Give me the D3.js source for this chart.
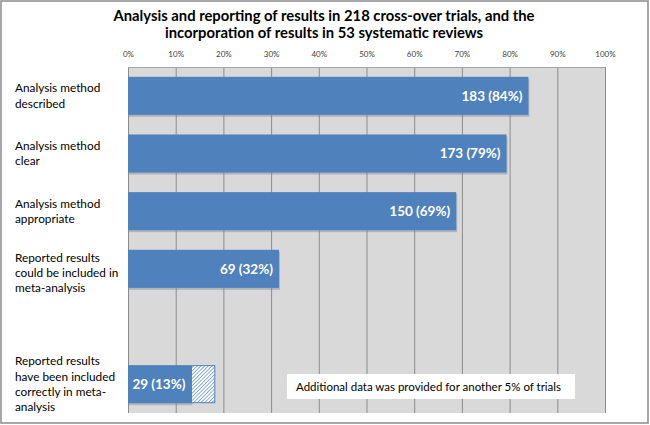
<!DOCTYPE html>
<html>
<head>
<meta charset="utf-8">
<script src="https://cdn.jsdelivr.net/npm/d3@7"></script>
<style>
  body { margin: 0; background: #fff; }
  svg { display: block; font-family: Lato, "Open Sans", sans-serif; }
</style>
</head>
<body>
<div class="Canvas"></div>
<script>
// Chart values.
const totalTrials = 218;
const categories = [
    ['Analysis method', 'described'],
    ['Analysis method', 'clear'],
    ['Analysis method', 'appropriate'],
    ['Reported results', 'could be included in', 'meta-analysis'],
    [],
    ['Reported results', 'have been included', 'correctly in meta-', 'analysis']
];
const counts = [183, 173, 150, 69, null, 29];
const percentLabels = ['84%', '79%', '69%', '32%', null, '13%'];
// extra share (hatched) for the last bar
const extraShare = [0, 0, 0, 0, null, 0.05];
const tickValues = [0, 0.1, 0.2, 0.3, 0.4, 0.5, 0.6, 0.7, 0.8, 0.9, 1];
const titleLines = [
    'Analysis and reporting of results in 218 cross-over trials, and the',
    'incorporation of results in 53 systematic reviews'
];
const noteText = 'Additional data was provided for another 5% of trials';

const width = 650;
const height = 425;
const margin = { top: 67, right: 45, bottom: 12, left: 128 };
const barColor = '#4f81bd';

const svg = d3.select('.Canvas').append('svg')
    .attr('width', width)
    .attr('height', height);

// hatch pattern for the extra part
const defs = svg.append('defs');
const pat = defs.append('pattern')
    .attr('id', 'hatch')
    .attr('patternUnits', 'userSpaceOnUse')
    .attr('width', 2.6).attr('height', 2.6)
    .attr('patternTransform', 'rotate(45)');
pat.append('rect').attr('width', 2.6).attr('height', 2.6).attr('fill', '#fff');
pat.append('line').attr('x1', 0).attr('y1', 0).attr('x2', 0).attr('y2', 2.6)
    .attr('stroke', barColor).attr('stroke-width', 1.3);

// outer frame
svg.append('rect')
    .attr('x', 1).attr('y', 1)
    .attr('width', width - 3).attr('height', height - 3)
    .attr('fill', '#fff').attr('stroke', '#8a8a8a').attr('stroke-width', 1.5);

// title
svg.append('g').selectAll('text')
    .data(titleLines)
    .enter()
    .append('text')
    .attr('x', 324)
    .attr('y', (d, i) => 21 + i * 16.5)
    .attr('text-anchor', 'middle')
    .attr('font-size', '14.8px')
    .attr('font-weight', 'bold')
    .attr('fill', '#000')
    .text((d) => d);

const x = d3.scaleLinear().domain([0, 1]).range([margin.left, width - margin.right]);
const y = d3.scaleBand()
    .domain(d3.range(categories.length))
    .range([margin.top, height - margin.bottom])
    .paddingInner(0.34)
    .paddingOuter(0.17);

// plot background
svg.append('rect')
    .attr('x', x(0)).attr('y', margin.top)
    .attr('width', x(1) - x(0)).attr('height', height - margin.bottom - margin.top)
    .attr('fill', '#d9d9d9');

// vertical grid lines
svg.append('g').selectAll('line')
    .data(tickValues)
    .enter()
    .append('line')
    .attr('x1', (d) => x(d) + 0.5).attr('x2', (d) => x(d) + 0.5)
    .attr('y1', margin.top).attr('y2', height - margin.bottom)
    .attr('stroke', '#8c8c8c').attr('stroke-width', 1);

svg.append('line')
    .attr('x1', x(0)).attr('x2', x(1))
    .attr('y1', margin.top + 0.5).attr('y2', margin.top + 0.5)
    .attr('stroke', '#a6a6a6');

// top axis
const axis = svg.append('g')
    .attr('transform', `translate(0,${margin.top - 7})`)
    .call(d3.axisTop(x).tickValues(tickValues).tickSize(0).tickFormat(d3.format('.0%')));
axis.select('.domain').remove();
axis.selectAll('text')
    .attr('font-family', 'Lato, sans-serif')
    .attr('font-size', '8px')
    .attr('fill', '#404040');

const rows = categories.map((c, i) => ({
    i, lines: c, count: counts[i], pct: percentLabels[i], extra: extraShare[i]
})).filter((d) => d.count != null);

// bar shadows
svg.append('g').selectAll('rect')
    .data(rows)
    .enter()
    .append('rect')
    .attr('x', x(0) + 1)
    .attr('y', (d) => y(d.i) + 2)
    .attr('width', (d) => x(d.count / totalTrials) - x(0))
    .attr('height', y.bandwidth())
    .attr('fill', '#7f8a99')
    .attr('opacity', 0.45);

// extra hatched part
svg.append('g').selectAll('rect')
    .data(rows.filter((d) => d.extra > 0))
    .enter()
    .append('rect')
    .attr('x', (d) => x(d.count / totalTrials))
    .attr('y', (d) => y(d.i) + 0.5)
    .attr('width', (d) => x(d.count / totalTrials + d.extra) - x(d.count / totalTrials) - 0.5)
    .attr('height', y.bandwidth() - 1)
    .attr('fill', 'url(#hatch)')
    .attr('stroke', barColor).attr('stroke-width', 1);

// bars
svg.append('g').selectAll('rect')
    .data(rows)
    .enter()
    .append('rect')
    .attr('x', x(0))
    .attr('y', (d) => y(d.i))
    .attr('width', (d) => x(d.count / totalTrials) - x(0))
    .attr('height', y.bandwidth())
    .attr('fill', barColor);

// value labels
svg.append('g').selectAll('text')
    .data(rows)
    .enter()
    .append('text')
    .attr('x', (d) => x(d.count / totalTrials) - 6)
    .attr('y', (d) => y(d.i) + y.bandwidth() / 2)
    .attr('dy', '0.36em')
    .attr('text-anchor', 'end')
    .attr('font-size', '13.5px')
    .attr('font-weight', 'bold')
    .attr('fill', '#fff')
    .text((d) => `${d.count} (${d.pct})`);

// category labels
const labels = svg.append('g').selectAll('text')
    .data(rows)
    .enter()
    .append('text')
    .attr('x', 15)
    .attr('font-size', '11.8px')
    .attr('fill', '#000');
labels.each(function (d) {
    const n = d.lines.length;
    const lh = 15.3;
    const cy = y(d.i) + y.bandwidth() / 2 + (n === 3 ? 4 : 0);
    d3.select(this).selectAll('tspan')
        .data(d.lines)
        .enter()
        .append('tspan')
        .attr('x', 15)
        .attr('y', (t, k) => cy + (k - (n - 1) / 2) * lh)
        .attr('dy', '0.35em')
        .text((t) => t);
});

// note box
const note = svg.append('g');
note.append('rect')
    .attr('x', 287).attr('y', 374)
    .attr('width', 288).attr('height', 25)
    .attr('fill', '#fff');
note.append('text')
    .attr('x', 296).attr('y', 386.5)
    .attr('dy', '0.35em')
    .attr('font-size', '11.5px')
    .attr('fill', '#000')
    .text(noteText);
</script>
</body>
</html>
